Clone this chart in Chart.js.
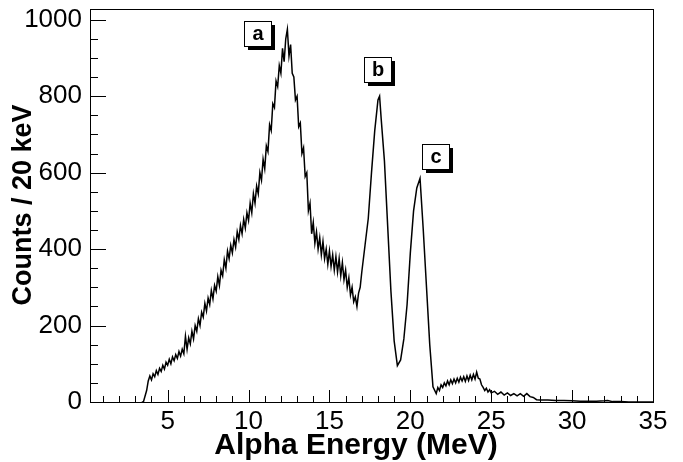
<!DOCTYPE html>
<html>
<head>
<meta charset="utf-8">
<script src="https://cdn.jsdelivr.net/npm/chart.js@4/dist/chart.umd.min.js"></script>
<style>
  html, body { margin: 0; padding: 0; background: #fff; }
  #wrap { width: 683px; height: 462px; }
</style>
</head>
<body>
<div id="wrap"><canvas id="spectrum"></canvas></div>
<script>
// alpha energy (MeV) and counts per 20 keV (upper/lower edge of the noisy trace)
var energy = [3.4, 3.5, 3.7,
  3.8, 3.9, 4.0, 4.1, 4.2, 4.3, 4.4, 4.5, 4.6, 4.7, 4.8, 4.9, 5.0, 5.1, 5.2, 5.3, 5.4, 5.5, 5.6, 5.7, 5.8, 5.9,
  6.0, 6.1, 6.2, 6.3, 6.4, 6.5, 6.6, 6.7, 6.8, 6.9, 7.0, 7.1, 7.2, 7.3, 7.4, 7.5, 7.6, 7.7, 7.8, 7.9,
  8.0, 8.1, 8.2, 8.3, 8.4, 8.5, 8.6, 8.7, 8.8, 8.9, 9.0, 9.1, 9.2, 9.3, 9.4, 9.5, 9.6, 9.7, 9.8, 9.9,
  10.0, 10.1, 10.2, 10.3, 10.4, 10.5, 10.6, 10.7, 10.8, 10.9, 11.0, 11.1, 11.2, 11.3, 11.4, 11.5, 11.6, 11.7, 11.8, 11.9,
  12.0, 12.1, 12.2, 12.3, 12.4, 12.5, 12.6, 12.7, 12.8, 12.9, 13.0, 13.1, 13.2, 13.3, 13.4, 13.5, 13.6, 13.7, 13.8, 13.9,
  14.0, 14.1, 14.2, 14.3, 14.4, 14.5, 14.6, 14.7, 14.8, 14.9, 15.0, 15.1, 15.2, 15.3, 15.4, 15.5, 15.6, 15.7, 15.8, 15.9,
  16.0, 16.1, 16.2, 16.3, 16.4, 16.5, 16.6, 16.7, 16.8, 16.9, 17.0, 17.2, 17.4, 17.6, 17.8, 18.0, 18.1, 18.2,
  18.4, 18.6, 18.8, 19.0, 19.2, 19.4, 19.6, 19.8, 20.0, 20.2, 20.4, 20.6, 20.8, 21.0, 21.2, 21.4,
  21.6, 21.7, 21.8, 21.9, 22.0, 22.1, 22.2, 22.3, 22.4, 22.5, 22.6, 22.7, 22.8, 22.9, 23.0, 23.1, 23.2, 23.3, 23.4, 23.5,
  23.6, 23.7, 23.8, 23.9, 24.0, 24.1, 24.2, 24.3, 24.4, 24.5, 24.6, 24.7, 24.8, 24.9, 25.0, 25.2, 25.4, 25.6, 25.8,
  26.0, 26.2, 26.4, 26.6, 26.8, 27.0, 27.2, 27.4, 27.6, 27.8, 28.0, 28.5, 29.0, 29.5, 30.0, 30.5, 31.0, 31.5, 32.0,
  32.2, 32.5, 33.0, 33.5, 34.0, 35.0];
var counts = [0, 0, 30,
  55, 68, 58, 74, 66, 82, 72, 88, 80, 96, 86, 104, 96, 112, 100, 118, 108, 124, 114, 132, 120, 138,
  126, 172, 138, 168, 152, 185, 165, 200, 185, 218, 200, 235, 222, 258, 238, 272, 255, 292, 270, 305,
  290, 328, 305, 345, 330, 372, 350, 395, 375, 410, 390, 425, 405, 445, 425, 462, 440, 478, 455, 495,
  475, 520, 495, 545, 520, 565, 545, 600, 580, 635, 610, 670, 655, 725, 710, 780, 770, 840, 825, 880,
  860, 925, 890, 950, 975, 905, 935, 860, 850, 790, 800, 720, 730, 650, 665, 590, 600, 500, 520, 440,
  470, 415, 445, 400, 430, 385, 420, 375, 400, 360, 395, 355, 385, 345, 380, 340, 375, 330, 365, 320,
  345, 300, 325, 280, 300, 262, 275, 250, 285, 300, 340, 410, 480, 600, 710, 790, 800, 740,
  630, 460, 290, 160, 95, 110, 165, 255, 390, 500, 560, 585, 450, 300, 150, 40,
  22, 38, 30, 45, 38, 50, 42, 55, 45, 58, 48, 60, 50, 62, 52, 65, 55, 66, 54, 68,
  56, 70, 58, 72, 60, 78, 62, 60, 45, 38, 30, 36, 26, 32, 24, 28, 20, 26, 18,
  24, 17, 22, 16, 22, 15, 22, 14, 12, 6, 5, 5, 4, 4, 3, 2, 2, 2, 3,
  4, 1, 1, 0, 0, 0];

var xTicks = [5, 10, 15, 20, 25, 30, 35];
var yTicks = [0, 200, 400, 600, 800, 1000];

var peakLabels = ['a', 'b', 'c'];

var FONT = '"Liberation Sans", Arial, Helvetica, sans-serif';

// label boxes anchored in data space (energy, counts)
var boxAnchors = [[10.58, 964], [17.94, 869], [21.53, 641]];

var rootFrame = {
  id: 'rootFrame',
  afterDraw: function(chart) {
    var ctx = chart.ctx;
    var a = chart.chartArea;
    var xs = chart.scales.x, ys = chart.scales.y;
    ctx.save();
    ctx.strokeStyle = '#000';
    ctx.lineWidth = 1;
    ctx.strokeRect(Math.round(a.left) + 0.5, Math.round(a.top) + 0.5,
      Math.round(a.right - a.left), Math.round(a.bottom - a.top));

    // x ticks, pointing inward
    ctx.beginPath();
    for (var v = 1; v <= 35; v++) {
      var px = Math.round(xs.getPixelForValue(v)) + 0.5;
      if (px < a.left || px > a.right + 1) continue;
      var len = (v % 5 === 0) ? 12 : 6;
      ctx.moveTo(px, a.bottom);
      ctx.lineTo(px, a.bottom - len);
    }
    // y ticks
    for (var w = 0; w <= 1000; w += 50) {
      var py = Math.round(ys.getPixelForValue(w)) + 0.5;
      var l = (w % 200 === 0) ? 16 : 8;
      ctx.moveTo(a.left, py);
      ctx.lineTo(a.left + l, py);
    }
    ctx.stroke();

    // label boxes with drop shadow
    ctx.font = 'bold 20px ' + FONT;
    ctx.textAlign = 'center';
    ctx.textBaseline = 'middle';
    for (var i = 0; i < peakLabels.length; i++) {
      var cx = xs.getPixelForValue(boxAnchors[i][0]);
      var cy = ys.getPixelForValue(boxAnchors[i][1]);
      var bw = 27, bh = 25;
      var bx = Math.round(cx - bw / 2), by = Math.round(cy - bh / 2);
      ctx.fillStyle = '#000';
      ctx.fillRect(bx + 4, by + 4, bw, bh);
      ctx.fillStyle = '#fff';
      ctx.fillRect(bx, by, bw, bh);
      ctx.strokeRect(bx + 0.5, by + 0.5, bw, bh);
      ctx.fillStyle = '#000';
      ctx.fillText(peakLabels[i], bx + bw / 2 + 0.5, by + bh / 2 + 1);
    }

    // axis titles
    ctx.font = 'bold 30px ' + FONT;
    ctx.fillText('Alpha Energy (MeV)', 356, 446);
    ctx.font = 'bold 27px ' + FONT;
    ctx.translate(24, 205);
    ctx.rotate(-Math.PI / 2);
    ctx.fillText('Counts / 20 keV', 0, 0);
    ctx.restore();
  }
};

new Chart(document.getElementById('spectrum'), {
  type: 'line',
  data: {
    datasets: [{
      data: energy.map(function(e, i) { return { x: e, y: counts[i] }; }),
      borderColor: '#000',
      borderWidth: 1.5,
      pointRadius: 0,
      tension: 0,
      fill: false
    }]
  },
  options: {
    responsive: true,
    maintainAspectRatio: false,
    animation: false,
    layout: { padding: { top: 9, right: 30, left: 0, bottom: 0 } },
    plugins: { legend: { display: false }, tooltip: { enabled: false } },
    scales: {
      x: {
        type: 'linear',
        min: 0.2,
        max: 35,
        grid: { display: false, drawTicks: false },
        border: { display: false },
        afterBuildTicks: function(s) { s.ticks = xTicks.map(function(v) { return { value: v }; }); },
        afterFit: function(s) { s.height = 60; s.paddingLeft = 0; s.paddingRight = 0; },
        ticks: { color: '#000', padding: 4, maxRotation: 0, font: { family: FONT, size: 26 },
          callback: function(v) { return String(v); } }
      },
      y: {
        min: 0,
        max: 1028,
        grid: { display: false, drawTicks: false },
        border: { display: false },
        afterBuildTicks: function(s) { s.ticks = yTicks.map(function(v) { return { value: v }; }); },
        afterFit: function(s) { s.width = 90; s.paddingTop = 0; s.paddingBottom = 0; },
        ticks: { color: '#000', padding: 8, font: { family: FONT, size: 26 },
          callback: function(v) { return String(v); } }
      }
    }
  },
  plugins: [rootFrame]
});
</script>
</body>
</html>
